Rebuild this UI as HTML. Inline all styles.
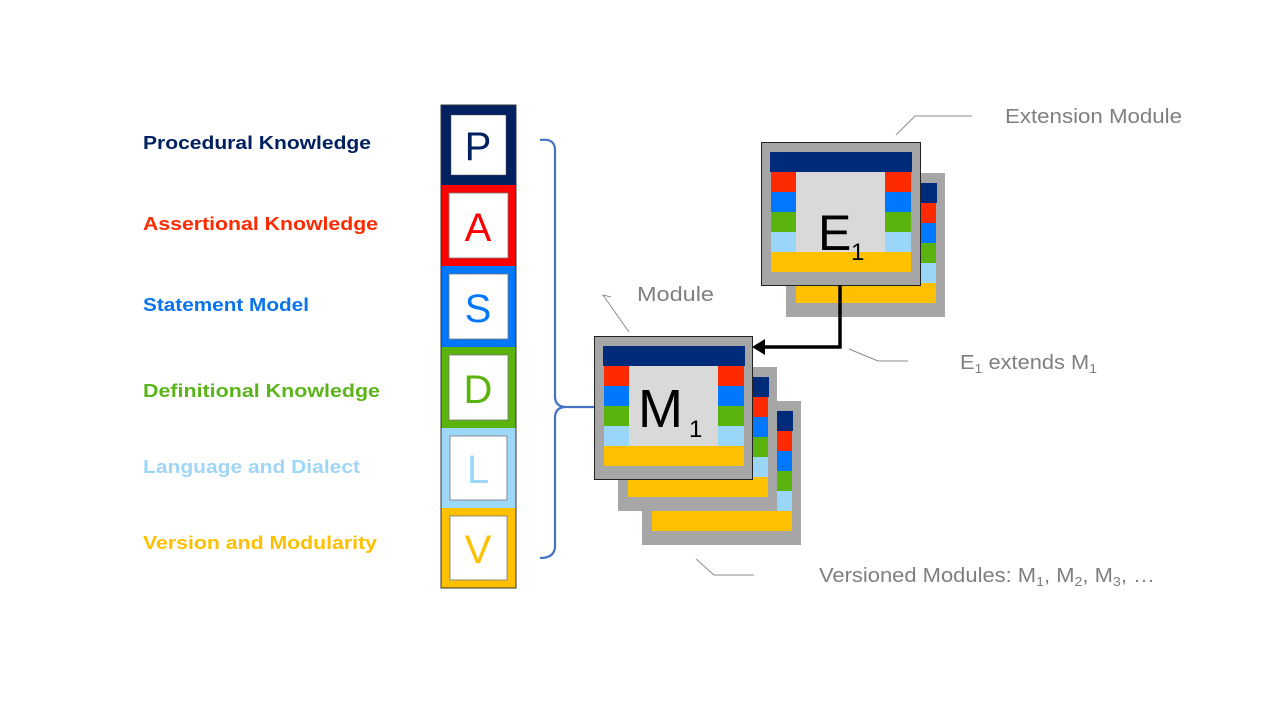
<!DOCTYPE html>
<html><head><meta charset="utf-8"><style>html,body{margin:0;padding:0;background:#fff}svg{display:block}</style></head>
<body>
<svg width="1280" height="720" viewBox="0 0 1280 720" xmlns="http://www.w3.org/2000/svg">
<defs>
<g id="card">
<rect x="0" y="0" width="159" height="144" fill="#a6a6a6"/>
<rect x="9" y="10" width="142" height="20" fill="#002b7a"/>
<rect x="10" y="30" width="25" height="20" fill="#ff2a00"/>
<rect x="10" y="50" width="25" height="20" fill="#0077ff"/>
<rect x="10" y="70" width="25" height="20" fill="#5ab40d"/>
<rect x="10" y="90" width="25" height="20" fill="#99d6f8"/>
<rect x="124" y="30" width="26" height="20" fill="#ff2a00"/>
<rect x="124" y="50" width="26" height="20" fill="#0077ff"/>
<rect x="124" y="70" width="26" height="20" fill="#5ab40d"/>
<rect x="124" y="90" width="26" height="20" fill="#99d6f8"/>
<rect x="35" y="30" width="89" height="81" fill="#d9d9d9"/>
<rect x="10" y="110" width="140" height="20" fill="#ffc000"/>
</g>
</defs>

<g font-family="Liberation Sans, sans-serif" font-weight="bold" font-size="18">
<text x="143" y="149" fill="#002060" textLength="228" lengthAdjust="spacingAndGlyphs">Procedural Knowledge</text>
<text x="143" y="230" fill="#ff2a00" textLength="235" lengthAdjust="spacingAndGlyphs">Assertional Knowledge</text>
<text x="143" y="311" fill="#0a74ee" textLength="166" lengthAdjust="spacingAndGlyphs">Statement Model</text>
<text x="143" y="397" fill="#5bb51a" textLength="237" lengthAdjust="spacingAndGlyphs">Definitional Knowledge</text>
<text x="143" y="473" fill="#9fd6f6" textLength="217" lengthAdjust="spacingAndGlyphs">Language and Dialect</text>
<text x="143" y="549" fill="#ffc000" textLength="234" lengthAdjust="spacingAndGlyphs">Version and Modularity</text>
</g>

<rect x="441" y="105" width="75" height="80" fill="#002060"/>
<rect x="451" y="115" width="55" height="60" fill="#fff" stroke="#555" stroke-width="0.5"/>
<rect x="441" y="185" width="75" height="81" fill="#ff0000"/>
<rect x="449" y="193" width="59" height="65" fill="#fff" stroke="#777" stroke-width="0.8"/>
<rect x="441" y="266" width="75" height="81" fill="#0077ff"/>
<rect x="449" y="274" width="59" height="65" fill="#fff" stroke="#777" stroke-width="0.8"/>
<rect x="441" y="347" width="75" height="81" fill="#5ab40d"/>
<rect x="449" y="355" width="59" height="65" fill="#fff" stroke="#777" stroke-width="0.8"/>
<rect x="441" y="428" width="75" height="80" fill="#9dd8f8"/>
<rect x="450" y="436" width="57" height="64" fill="#fff" stroke="#777" stroke-width="0.8"/>
<rect x="441" y="508" width="75" height="80" fill="#ffc000"/>
<rect x="450" y="516" width="57" height="64" fill="#fff" stroke="#777" stroke-width="0.8"/>
<rect x="441" y="105" width="75" height="483" fill="none" stroke="#333" stroke-width="1"/>
<g font-family="Liberation Sans, sans-serif" font-size="40" text-anchor="middle">
<text x="478" y="160" fill="#002060">P</text>
<text x="478" y="241" fill="#ff0000">A</text>
<text x="478" y="322" fill="#0077ff">S</text>
<text x="478" y="403" fill="#5ab40d">D</text>
<text x="478" y="483" fill="#9dd8f8">L</text>
<text x="478" y="563" fill="#ffc000">V</text>
</g>

<path d="M540,140 Q555,138 555,150 L555,396 Q555,407 566,407 L598,407 M566,407 Q555,407 555,418 L555,546 Q555,558 540,558" fill="none" stroke="#4472c4" stroke-width="2.2"/>

<use href="#card" x="786" y="173"/>
<use href="#card" x="761" y="142"/>
<rect x="761.5" y="142.5" width="159" height="143" fill="none" stroke="#222" stroke-width="1"/>

<use href="#card" x="642" y="401"/>
<use href="#card" x="618" y="367"/>
<use href="#card" x="594" y="336"/>
<rect x="594.5" y="336.5" width="158" height="143" fill="none" stroke="#222" stroke-width="1"/>

<g font-family="Liberation Sans, sans-serif" fill="#000">
<text x="818" y="250" font-size="50">E</text>
<text x="851" y="260" font-size="24">1</text>
<text x="638" y="427" font-size="54">M</text>
<text x="689" y="437" font-size="24">1</text>
</g>

<path d="M840,285 L840,347 L764,347" fill="none" stroke="#000" stroke-width="3.5"/>
<polygon points="752,347 765,339 765,355" fill="#000"/>

<g fill="none" stroke="#8c8c8c" stroke-width="1">
<polyline points="896,135 915,116 972,116"/>
<polyline points="611,297 603,295 629,332"/>
<polyline points="849,349 878,361 908,361"/>
<polyline points="696,559 714,575 754,575"/>
</g>
<g font-family="Liberation Sans, sans-serif" fill="#7f7f7f" font-size="20">
<text x="1005" y="123" textLength="177" lengthAdjust="spacingAndGlyphs">Extension Module</text>
<text x="637" y="301" textLength="77" lengthAdjust="spacingAndGlyphs">Module</text>
<text x="960" y="369" textLength="137" lengthAdjust="spacingAndGlyphs">E<tspan font-size="13" dy="4">1</tspan><tspan dy="-4"> extends M</tspan><tspan font-size="13" dy="4">1</tspan></text>
<text x="819" y="582" textLength="336" lengthAdjust="spacingAndGlyphs">Versioned Modules: M<tspan font-size="13" dy="4">1</tspan><tspan dy="-4">, M</tspan><tspan font-size="13" dy="4">2</tspan><tspan dy="-4">, M</tspan><tspan font-size="13" dy="4">3</tspan><tspan dy="-4">, …</tspan></text>
</g>
</svg>
</body></html>
